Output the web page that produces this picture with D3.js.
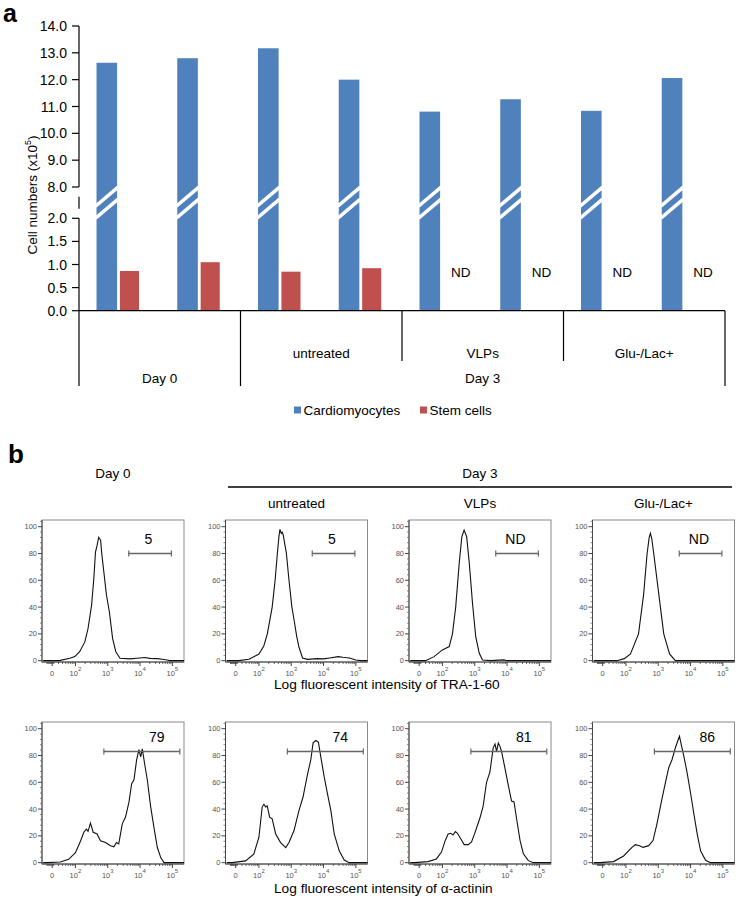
<!DOCTYPE html>
<html><head><meta charset="utf-8">
<script src="https://cdn.jsdelivr.net/npm/d3@7"></script>
<style>body{margin:0;background:#fff} svg{display:block} text{font-family:"Liberation Sans",Arial,sans-serif}</style>
</head><body><svg id="c" width="739" height="900"></svg>
<script>
// ---------- Panel a data ----------
const categories = ["D0-1","D0-2","UT-1","UT-2","VLP-1","VLP-2","GL-1","GL-2"];
const subgroupOf = [null,null,"untreated","untreated","VLPs","VLPs","Glu-/Lac+","Glu-/Lac+"];
const dayOf = ["Day 0","Day 0","Day 3","Day 3","Day 3","Day 3","Day 3","Day 3"];
const seriesNames = ["Cardiomyocytes","Stem cells"];
const cardiomyocytes = [12.63, 12.80, 13.17, 12.00, 10.81, 11.27, 10.84, 12.06];
const stemCells = [0.86, 1.05, 0.845, 0.92, null, null, null, null]; // null = ND
const yTicksUpper = [8,9,10,11,12,13,14];
const yTicksLower = [0,0.5,1.0,1.5,2.0];

// ---------- Panel b data ----------
const flowColumns = ["Day 0","untreated","VLPs","Glu-/Lac+"];
const traLabels = ["5","5","ND","ND"];
const actininLabels = ["79","74","81","86"];
const traGate = [3.65, 4.97, 80];
const actininGate = [2.88, 5.23, 83];
const flowXTicks = [1.28, 2, 3, 4, 5];
const flowXTickSup = ["", "2", "3", "4", "5"];
const flowYTicks = [0,20,40,60,80,100];
const traCurves = [
  [[1.0,0],[1.5,0],[1.83,1.8],[1.98,3],[2.13,6.7],[2.29,14],[2.39,24],[2.5,41.5],[2.57,61.5],[2.62,81],[2.67,86],[2.72,92],[2.75,91],[2.78,90],[2.81,81],[2.88,66],[2.96,49],[3.05,36.5],[3.15,16.7],[3.25,6.7],[3.38,1.8],[3.69,1.3],[3.9,1.8],[4.15,2.4],[4.3,1.7],[4.52,1.5],[4.7,1.0],[4.83,0.5],[4.93,0],[5.36,0]],
  [[1.0,0],[1.38,0],[1.69,1],[2.0,5],[2.15,11],[2.26,20],[2.41,40],[2.5,60],[2.57,80],[2.62,93],[2.65,98],[2.69,95],[2.72,96],[2.75,94],[2.8,87],[2.85,80],[2.93,60],[3.02,40],[3.09,30],[3.17,18],[3.24,10],[3.35,2],[3.5,1],[3.8,1.5],[4.0,1.3],[4.2,2],[4.45,3],[4.6,2.5],[4.8,2],[5.0,0.5],[5.15,0],[5.36,0]],
  [[1.0,0],[1.48,0],[1.74,3],[2.0,8],[2.21,10.5],[2.31,20],[2.41,40],[2.52,73],[2.6,92.5],[2.67,97.5],[2.75,92.5],[2.83,73],[2.93,43],[3.03,18],[3.14,5.5],[3.24,0.5],[3.5,0],[3.9,0.6],[4.0,0],[5.36,0]],
  [[1.0,0],[1.72,0],[1.95,1.5],[2.14,5],[2.39,20],[2.55,50],[2.655,80],[2.72,92],[2.757,95],[2.8,91],[2.86,80],[3.015,50],[3.17,20],[3.35,5],[3.53,0],[5.36,0]]
];
const actininCurves = [
  [[1.0,0],[1.12,0],[1.53,0.5],[1.79,2.5],[2.0,7.5],[2.155,16],[2.26,22.7],[2.34,25],[2.39,23.4],[2.465,29.5],[2.55,22.7],[2.67,21.4],[2.775,16.4],[2.93,15],[3.085,12.6],[3.19,11.8],[3.27,15],[3.34,14],[3.45,29],[3.55,34],[3.655,45],[3.74,59],[3.81,61.7],[3.895,77],[3.965,84.4],[4.02,79],[4.07,85],[4.14,74],[4.225,61.7],[4.33,41.5],[4.43,26.4],[4.535,11.3],[4.64,3.8],[4.74,0],[5.36,0]],
  [[1.0,0],[1.17,0],[1.586,1.3],[1.84,6.3],[2.0,19],[2.1,41.5],[2.155,43.6],[2.207,41.5],[2.257,42.3],[2.33,34],[2.41,32.7],[2.518,21.4],[2.67,15],[2.83,11.3],[2.93,15],[3.085,24],[3.24,39],[3.365,49],[3.5,65.5],[3.605,76.8],[3.676,89.4],[3.76,91.2],[3.84,90],[3.915,79],[4.02,64],[4.12,51.6],[4.225,39],[4.33,21.4],[4.485,8.8],[4.64,2],[4.79,0],[5.36,0]],
  [[1.0,0],[1.14,0],[1.555,0.8],[1.813,2.8],[1.97,7.9],[2.09,16.8],[2.176,21.4],[2.26,21.9],[2.33,20.6],[2.4,23.2],[2.465,21.9],[2.57,17.6],[2.673,13.5],[2.8,13.5],[2.9,15.5],[3.0,21.9],[3.16,33.3],[3.26,42.2],[3.365,60],[3.47,67.7],[3.57,85.5],[3.626,88.5],[3.676,83],[3.73,89.3],[3.78,86.8],[3.83,83],[3.937,70.2],[4.04,57.5],[4.14,46],[4.216,45.3],[4.3,32],[4.4,16.8],[4.505,6.6],[4.66,1.5],[4.816,0],[5.36,0]],
  [[1.0,0],[1.2,0],[1.617,0.8],[1.928,5],[2.186,11.4],[2.29,13.4],[2.425,12.7],[2.528,11.4],[2.704,12.7],[2.838,16.5],[2.96,29],[3.086,44.3],[3.22,59.5],[3.325,70.9],[3.428,77],[3.533,86],[3.605,91],[3.657,94.4],[3.707,88.6],[3.79,79.7],[3.894,67],[4.0,52],[4.1,36.7],[4.205,21.5],[4.31,8.9],[4.465,1.8],[4.62,0],[5.36,0]]
];

const BLUE = "#4F81BD", RED = "#C0504D";
const svg = d3.select("#c");
svg.append("rect").attr("width",739).attr("height",900).attr("fill","#fff");

// ================= Panel a =================
const ga = svg.append("g");
ga.append("text").attr("x",3).attr("y",22).attr("font-size",25).attr("font-weight","bold").text("a");

const x0 = d3.scaleBand().domain(categories).range([79,725]);
const x1 = d3.scaleBand().domain(seriesNames).range([17.5,61.5]).paddingInner(0.12);
const y = d3.scaleLinear().domain([0,2,8,14]).range([310.7,218.3,187,26]);
const gapMid = (y(2)+y(8))/2;

// bars
ga.selectAll("rect.cm").data(cardiomyocytes).join("rect").attr("class","cm")
  .attr("x",(d,i)=>x0(categories[i])+x1("Cardiomyocytes"))
  .attr("width",x1.bandwidth())
  .attr("y",d=>y(d)).attr("height",d=>y(0)-y(d)).attr("fill",BLUE);
ga.selectAll("rect.sc").data(stemCells.map((v,i)=>({v,i})).filter(d=>d.v!==null)).join("rect").attr("class","sc")
  .attr("x",d=>x0(categories[d.i])+x1("Stem cells"))
  .attr("width",x1.bandwidth()-1.5)
  .attr("y",d=>y(d.v)).attr("height",d=>y(0)-y(d.v)).attr("fill",RED);
// ND labels
ga.selectAll("text.nd").data(stemCells.map((v,i)=>({v,i})).filter(d=>d.v===null)).join("text").attr("class","nd")
  .attr("x",d=>x0(categories[d.i])+x1("Stem cells")+8).attr("y",277)
  .attr("font-size",13.5).text("ND");
// break stripes
const slope = 0.85;
categories.forEach((c,i)=>{
  const xl = x0(c)+x1("Cardiomyocytes")-1, xr = xl + x1.bandwidth()+2, cx=(xl+xr)/2;
  [-6,6].forEach(off=>{
    ga.append("line").attr("x1",xl).attr("y1",gapMid+off+(cx-xl)*slope)
      .attr("x2",xr).attr("y2",gapMid+off-(xr-cx)*slope)
      .attr("stroke","#fff").attr("stroke-width",3.6);
  });
});

// y axis
const axisX = 79;
ga.append("line").attr("x1",axisX).attr("x2",axisX).attr("y1",y(8)).attr("y2",y(14)).attr("stroke","#000").attr("stroke-width",1.2);
ga.append("line").attr("x1",axisX).attr("x2",axisX).attr("y1",y(0)).attr("y2",y(2)).attr("stroke","#000").attr("stroke-width",1.2);
ga.append("line").attr("x1",axisX).attr("x2",axisX).attr("y1",gapMid-6).attr("y2",gapMid+6).attr("stroke","#000").attr("stroke-width",1.2);
const fmt = d3.format(".1f");
[...yTicksUpper, ...yTicksLower].forEach(t=>{
  ga.append("line").attr("x1",axisX-7).attr("x2",axisX).attr("y1",y(t)).attr("y2",y(t)).attr("stroke","#000").attr("stroke-width",1.2);
  ga.append("text").attr("x",67).attr("y",y(t)).attr("dy","0.36em").attr("text-anchor","end").attr("font-size",14).text(fmt(t));
});
const yl = ga.append("text").attr("transform","translate(37,195) rotate(-90)").attr("text-anchor","middle").attr("font-size",13.5);
yl.append("tspan").text("Cell numbers (x10");
yl.append("tspan").attr("font-size",9).attr("dy",-6).text("5");
yl.append("tspan").attr("dy",6).text(")");

// x axis & category table
const y0 = y(0);
ga.append("line").attr("x1",79).attr("x2",725).attr("y1",y0).attr("y2",y0).attr("stroke","#000").attr("stroke-width",1.2);
const boundaries = [];
categories.forEach((c,i)=>{
  if(i===0 || dayOf[i]!==dayOf[i-1]) boundaries.push({x:x0(c), long:true});
  else if(subgroupOf[i]!==subgroupOf[i-1]) boundaries.push({x:x0(c), long:false});
});
boundaries.push({x:x0.range()[1], long:true});
boundaries.forEach(b=>{
  ga.append("line").attr("x1",b.x).attr("x2",b.x).attr("y1",y0).attr("y2",b.long?386:361).attr("stroke","#000").attr("stroke-width",1.2);
});
function spans(arr){
  const out=[]; arr.forEach((g,i)=>{ if(g===null) return; const last=out[out.length-1]; if(last&&last.g===g&&last.end===i-1) last.end=i; else out.push({g,start:i,end:i}); }); return out;
}
spans(subgroupOf).forEach(s=>{
  const cx = (x0(categories[s.start]) + x0(categories[s.end])+x0.bandwidth())/2;
  ga.append("text").attr("x",cx).attr("y",357.5).attr("text-anchor","middle").attr("font-size",13.5).text(s.g);
});
spans(dayOf).forEach(s=>{
  const cx = (x0(categories[s.start]) + x0(categories[s.end])+x0.bandwidth())/2;
  ga.append("text").attr("x",cx).attr("y",382.5).attr("text-anchor","middle").attr("font-size",13.5).text(s.g);
});
// legend
const legX = [294, 420], colors=[BLUE,RED];
seriesNames.forEach((s,i)=>{
  ga.append("rect").attr("x",legX[i]).attr("y",406.5).attr("width",7).attr("height",7).attr("fill",colors[i]);
  ga.append("text").attr("x",legX[i]+9.5).attr("y",415).attr("font-size",13.5).text(s);
});

// ================= Panel b =================
const gb = svg.append("g");
gb.append("text").attr("x",8).attr("y",463).attr("font-size",26).attr("font-weight","bold").text("b");

const FW = 142, FH = 142;
const colScale = d3.scaleBand().domain(flowColumns).range([42, 42+4*183.5]);
const rowTops = [520, 722];
const fx = d3.scaleLinear().domain([0.965,5.36]).range([0,FW]);
const fy = d3.scaleLinear().domain([-1,105]).range([FH,0]);
const line = d3.line().x(d=>fx(d[0])).y(d=>fy(d[1])).curve(d3.curveLinear);

// headers
flowColumns.forEach((c,i)=>{
  const cx = colScale(c)+FW/2;
  gb.append("text").attr("x",cx).attr("y", i===0?478:508).attr("text-anchor","middle").attr("font-size",13.5).text(c);
});
const d3x = (colScale("untreated")+colScale("Glu-/Lac+")+FW)/2;
gb.append("line").attr("x1",228).attr("x2",732).attr("y1",487).attr("y2",487).attr("stroke","#000").attr("stroke-width",1.5);
gb.append("text").attr("x",d3x).attr("y",478).attr("text-anchor","middle").attr("font-size",13.5).text("Day 3");

const minorX = [];
for(let k=1.12;k<=1.36;k+=0.03) minorX.push(k);
for(let d=1; d<=4; d++) for(let k=2;k<=9;k++){ const v=Math.log10(k*Math.pow(10,d)); if(v>1.4) minorX.push(v); }
const minorY = d3.range(0,105,4).filter(v=>v%20!==0);

function panel(row, col, curve, gate, label){
  const g = gb.append("g").attr("transform",`translate(${colScale(col)},${rowTops[row]})`);
  g.append("rect").attr("width",FW).attr("height",FH).attr("fill","none").attr("stroke","#8a8a8a").attr("stroke-width",1);
  g.append("line").attr("x1",0).attr("x2",0).attr("y1",0).attr("y2",FH).attr("stroke","#444").attr("stroke-width",1);
  g.append("line").attr("x1",0).attr("x2",FW).attr("y1",FH).attr("y2",FH).attr("stroke","#444").attr("stroke-width",1);
  flowYTicks.forEach(t=>{
    g.append("line").attr("x1",-4).attr("x2",0).attr("y1",fy(t)).attr("y2",fy(t)).attr("stroke","#444");
    g.append("text").attr("x",-5).attr("y",fy(t)).attr("dy","0.35em").attr("text-anchor","end").attr("font-size",7.5).attr("fill","#555").text(t);
  });
  minorY.forEach(t=>g.append("line").attr("x1",-2).attr("x2",0).attr("y1",fy(t)).attr("y2",fy(t)).attr("stroke","#666").attr("stroke-width",0.8));
  flowXTicks.forEach((t,i)=>{
    g.append("line").attr("x1",fx(t)).attr("x2",fx(t)).attr("y1",FH).attr("y2",FH+4).attr("stroke","#444");
    const tx = g.append("text").attr("x",fx(t)).attr("y",FH+13.5).attr("text-anchor","middle").attr("font-size",7.5).attr("fill","#555");
    if(i===0) tx.text("0");
    else { tx.append("tspan").text("10"); tx.append("tspan").attr("dy",-5).attr("font-size",6).text(flowXTickSup[i]); }
  });
  minorX.forEach(t=>g.append("line").attr("x1",fx(t)).attr("x2",fx(t)).attr("y1",FH).attr("y2",FH+2).attr("stroke","#444").attr("stroke-width",0.8));
  g.append("path").datum(curve).attr("d",line).attr("fill","none").attr("stroke","#111").attr("stroke-width",1.1);
  const gy = fy(gate[2]), gx1 = fx(gate[0]), gx2 = fx(gate[1]);
  g.append("line").attr("x1",gx1).attr("x2",gx2).attr("y1",gy).attr("y2",gy).attr("stroke","#666").attr("stroke-width",1.4);
  [gx1,gx2].forEach(xx=>g.append("line").attr("x1",xx).attr("x2",xx).attr("y1",gy-3).attr("y2",gy+3).attr("stroke","#666").attr("stroke-width",1.2));
  g.append("text").attr("x",gx2-23).attr("y",gy-9).attr("text-anchor","middle").attr("font-size",14).text(label);
}
flowColumns.forEach((c,i)=>{
  panel(0,c,traCurves[i],traGate,traLabels[i]);
  panel(1,c,actininCurves[i],actininGate,actininLabels[i]);
});
gb.append("text").attr("x",274).attr("y",688.5).attr("font-size",13.7).text("Log fluorescent intensity of TRA-1-60");
gb.append("text").attr("x",274).attr("y",893).attr("font-size",13.7).text("Log fluorescent intensity of α-actinin");
</script></body></html>
